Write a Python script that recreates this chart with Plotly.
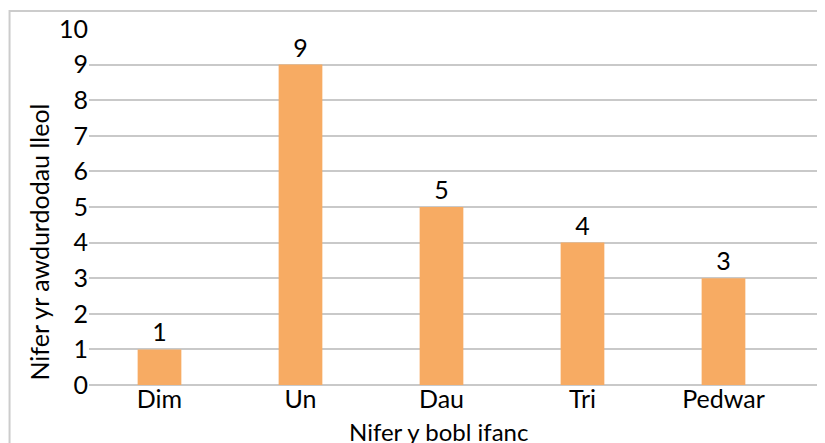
import plotly.graph_objects as go

categories = ["Dim", "Un", "Dau", "Tri", "Pedwar"]
values = [1, 9, 5, 4, 3]
y_ticks = [0, 1, 2, 3, 4, 5, 6, 7, 8, 9, 10]
x_title = "Nifer y bobl ifanc"
y_title = "Nifer yr awdurdodau lleol"

# page body has an 8px margin, so the figure is drawn 8px in from the corner
W, H = 817, 435
L, T, B = 80.5, 21, 58
pw = W - L
ph = H - T - B

FONT = "Lato"
FS = 25
fig = go.Figure()
fig.add_trace(go.Bar(
    x=list(range(len(categories))), y=values,
    marker=dict(color="#F7AB63", line=dict(width=0)),
    text=[str(v) for v in values], textposition="outside",
    textfont=dict(family=FONT, size=FS, color="#000000"),
    cliponaxis=False,
    width=0.31,
))

fig.update_layout(
    width=W, height=H,
    margin=dict(l=L, r=0, t=T, b=B, pad=0),
    paper_bgcolor="white", plot_bgcolor="white",
    showlegend=False,
    font=dict(family=FONT, size=FS, color="#000000"),
    xaxis=dict(
        range=[-0.5, 4.72],
        tickmode="array", tickvals=list(range(len(categories))), ticktext=categories,
        showgrid=False, zeroline=False, showline=False, ticks="",
        ticklabelstandoff=-3,
        tickfont=dict(family=FONT, size=FS, color="#000000"),
    ),
    yaxis=dict(
        range=[0, 10], tickmode="array", tickvals=y_ticks,
        showgrid=True, gridcolor="#C9C9C9", gridwidth=2,
        zeroline=True, zerolinecolor="#C9C9C9", zerolinewidth=2,
        showline=False, ticks="",
        tickfont=dict(family=FONT, size=FS, color="#000000"),
    ),
)

fig.add_annotation(
    text=x_title, xref="paper", yref="paper",
    x=(430 - L) / pw, y=-(423 - (H - B)) / ph,
    xanchor="center", yanchor="middle", showarrow=False,
    font=dict(family=FONT, size=24, color="#000000"),
)
fig.add_annotation(
    text=y_title, xref="paper", yref="paper",
    x=(30 - L) / pw, y=1 - (234 - T) / ph,
    xanchor="center", yanchor="middle", showarrow=False, textangle=-90,
    font=dict(family=FONT, size=FS, color="#000000"),
)
fig.add_shape(
    type="rect", xref="paper", yref="paper",
    x0=(1 - L) / pw, x1=1.3, y0=-0.5, y1=1 + (T - 3) / ph,
    line=dict(color="#CCCCCC", width=2), fillcolor="rgba(0,0,0,0)",
    layer="below",
)

fig.write_html("out.html")
